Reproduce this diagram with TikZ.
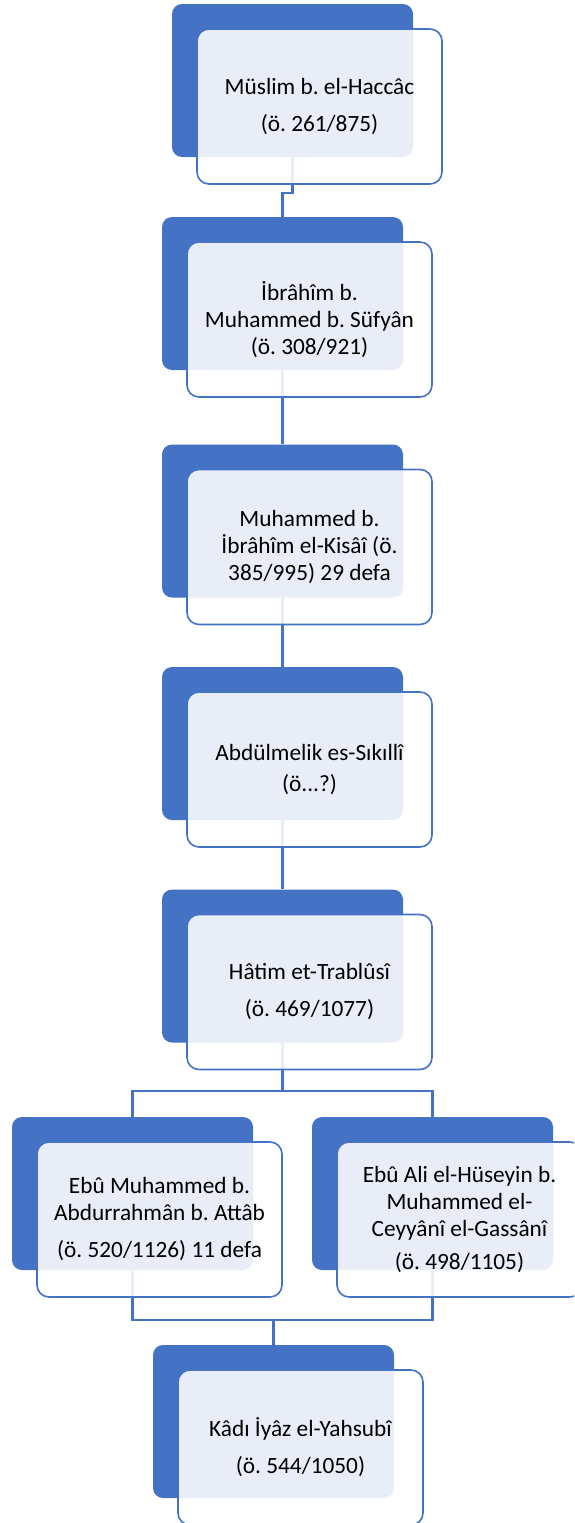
\documentclass[tikz,border=0pt]{standalone}
\usepackage{fontspec}
\setmainfont{Carlito}
\usetikzlibrary{shapes}
\usetikzlibrary{positioning}
\definecolor{accent}{HTML}{4472C4}

\begin{document}
\begin{tikzpicture}[auto ,on grid ,node distance =225pt and 150pt ,
    back/.style ={rectangle ,rounded corners =10pt ,fill =accent ,
    minimum width =241pt ,minimum height =153pt ,inner sep =0pt},
    card/.style ={rectangle ,rounded corners =12pt ,draw =accent ,line width =1.6pt ,
    fill =white ,fill opacity =0.88 ,text opacity =1 ,text =black ,align =center ,
    minimum width =245pt ,minimum height =155pt ,font =\fontsize{23.3}{27}\selectfont\frenchspacing},
    link/.style ={draw =accent ,line width =2.2pt}]
    \clip (0,0) rectangle (574pt,-1523pt);
    \node[back] (muslimB) at (292.5pt,-80.5pt) {};
    \node[back] (ibrahimB) [below left =213pt and 10pt of muslimB] {};
    \node[back] (kisaiB) [below =227.5pt of ibrahimB] {};
    \node[back] (sikilliB) [below =222.5pt of kisaiB] {};
    \node[back] (hatimB) [below =222.5pt of sikilliB] {};
    \node[back] (attabB) [below left =227.5pt and 150pt of hatimB] {};
    \node[back] (gassaniB) [below right =227.5pt and 150pt of hatimB] {};
    \node[back] (kadiB) [below right =228pt and 141pt of attabB] {};
    % connectors
    \draw[link] (muslimB.south) -- ++(0,-36pt) -| (ibrahimB.north);
    \draw[link] (ibrahimB.south) -- (kisaiB.north);
    \draw[link] (kisaiB.south) -- (sikilliB.north);
    \draw[link] (sikilliB.south) -- (hatimB.north);
    \draw[link] (hatimB.south) -- ++(0,-48pt) coordinate (fork);
    \draw[link] (attabB.north) |- (fork) -| (gassaniB.north);
    \draw[link] (attabB.south) -- ++(0,-50pt) coordinate (merge) -| (gassaniB.south);
    \draw[link] (kadiB.north) -- (kadiB.north |- merge);
    % cards
    \node[card] (muslim) [below right =26pt and 27pt of muslimB] {%
      Müslim b. el-Haccâc\\[10pt](ö. 261/875)%
      };
    \node[card] (ibrahim) [below right =26pt and 27pt of ibrahimB] {%
      İbrâhîm b.\\Muhammed b. Süfyân\\(ö. 308/921)%
      };
    \node[card] (kisai) [below right =26pt and 27pt of kisaiB] {%
      Muhammed b.\\İbrâhîm el-Kisâî (ö.\\385/995) 29 defa%
      };
    \node[card] (sikilli) [below right =26pt and 27pt of sikilliB] {%
      Abdülmelik es-Sıkıllî\\[4pt](ö...?)%
      };
    \node[card] (hatim) [below right =26pt and 27pt of hatimB] {%
      Hâtim et-Trablûsî\\[10pt](ö. 469/1077)%
      };
    \node[card] (attab) [below right =26pt and 27pt of attabB] {%
      Ebû Muhammed b.\\Abdurrahmân b. Attâb\\[10pt](ö. 520/1126) 11 defa%
      };
    \node[card] (gassani) [below right =26pt and 27pt of gassaniB] {%
      Ebû Ali el-Hüseyin b.\\Muhammed el-\\Ceyyânî el-Gassânî\\[6pt](ö. 498/1105)%
      };
    \node[card] (kadi) [below right =26pt and 27pt of kadiB] {%
      Kâdı İyâz el-Yahsubî\\[10pt](ö. 544/1050)%
      };
\end{tikzpicture}
\end{document}
